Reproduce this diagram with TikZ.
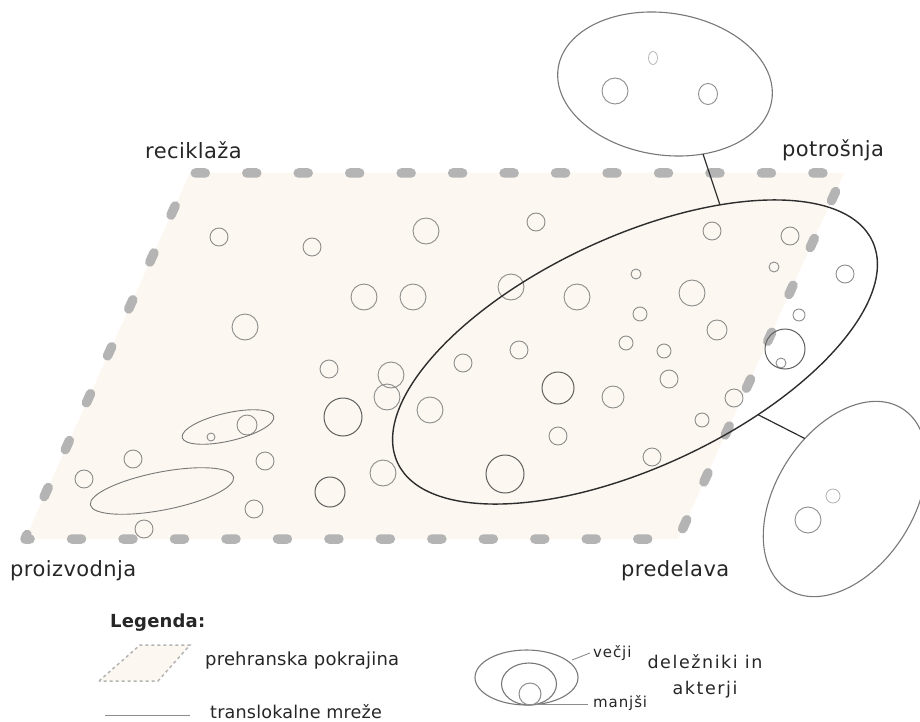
\documentclass[tikz,border=0pt]{standalone}
\usepackage{fontspec}
\setmainfont{DejaVu Sans}
\newfontfamily\labfont[LetterSpace=2]{DejaVu Sans}
\newfontfamily\legfont[LetterSpace=1]{DejaVu Sans}
\newfontfamily\spfont[LetterSpace=9]{DejaVu Sans}
\newfontfamily\smfont[LetterSpace=6]{DejaVu Sans}
\usetikzlibrary{shapes.geometric}
\definecolor{landfill}{RGB}{252,247,240}
\definecolor{dashgray}{RGB}{180,180,180}
\definecolor{bubgray}{RGB}{140,140,140}
\definecolor{bubdark}{RGB}{95,95,95}
\definecolor{netcol}{RGB}{45,45,45}
\definecolor{ringcol}{RGB}{120,120,120}
\begin{document}
\begin{tikzpicture}[x=1pt,y=-1pt,
  bub/.style={draw=bubgray, line width=0.9pt},
  bubd/.style={draw=bubdark, line width=1pt},
  region/.style={ellipse, inner sep=0pt, outer sep=0pt},
  lab/.style={font=\labfont\fontsize{21}{25}\selectfont, inner sep=0pt, text=black!85},
  leg/.style={font=\legfont\fontsize{18}{22}\selectfont, inner sep=0pt, text=black!85},
  sm/.style={font=\smfont\fontsize{15}{18}\selectfont, inner sep=0pt, text=black!85},
  link/.style={draw=netcol, line width=1.2pt}]
\useasboundingbox (0,0) rectangle (920,722);

% food landscape
\fill[landfill] (25,539) -- (190,173) -- (844,173) -- (678,539) -- cycle;
\draw[dashgray, line width=9.5pt, line cap=round, dash pattern=on 10pt off 41.47pt, dash phase=5pt]
  (25,539) -- (190,173) -- (844,173) -- (678,539) -- cycle;

% actors
\foreach \x/\y/\r in {219/237/9, 312/247/9, 426/231/13, 364/297/13, 413/297/13, 245/327/13,
  329/369/9, 391/375/13, 387/397/13, 430/410/13, 247/425/10, 211/437/4, 133/459/9,
  265/461/9, 84/479/9, 383/473/13, 254/509/9, 144/529/9,
  536/222/9, 511/287/13, 577/297/13, 636/274/5, 692/293/13, 712/231/9, 790/236/9,
  774/267/5, 845/274/9, 640/314/7, 717/330/10, 799/315/6, 626/343/7, 664/351/7,
  519/350/9, 463/363/9, 781/363/5, 669/379/9, 613/397/11, 734/398/9, 702/420/7,
  558/436/9, 652/457/9}
  \draw[bub] (\x,\y) circle [radius=\r];
\foreach \x/\y/\r in {343/417/19, 330/492/15, 785/349/20, 558/388/16, 505/474/19}
  \draw[bubd] (\x,\y) circle [radius=\r];

% small networks
\draw[ringcol, line width=0.9pt, rotate around={13:(228,427)}] (228,427) ellipse [x radius=47, y radius=14];
\draw[ringcol, line width=0.9pt, rotate around={11:(162,491)}] (162,491) ellipse [x radius=73, y radius=19];

% translocal networks
\node[region, draw=netcol, line width=1.4pt, minimum width=524pt, minimum height=230pt, rotate=25] (net) at (635,352) {};
\node[region, draw=ringcol, line width=1.1pt, minimum width=216pt, minimum height=142pt, rotate=-8.5] (top) at (665,84) {};
\node[region, draw=ringcol, line width=1.1pt, minimum width=214pt, minimum height=138pt, rotate=57.6] (rt) at (845,499) {};
\draw[link] (net.35) -- (top.-53);
\draw[link] (net.-52) -- (rt.66);

\draw[bub] (615,91) circle [radius=13];
\draw[bub] (708,94) circle [x radius=9.5, y radius=10.5];
\draw[draw=bubgray!60, line width=0.8pt] (653,58) ellipse [x radius=4.5, y radius=6.5];
\draw[bub] (808,520) circle [radius=13];
\draw[draw=bubgray!70, line width=0.8pt] (833,496) circle [radius=7];

% labels
\node[lab, anchor=base west] (rec) at (145,159) {reciklaža};
\node[lab, anchor=base west] (pot) at (782,157) {potrošnja};
\node[lab, anchor=base west] (pro) at (10,576) {proizvodnja};
\node[lab, anchor=base west] (pre) at (621,576) {predelava};

% legend
\node[leg, anchor=base west, font=\legfont\bfseries\fontsize{18}{22}\selectfont] (legtitle) at (110,627) {Legenda:};
\filldraw[fill=landfill, draw=dashgray, line width=1.5pt, dash pattern=on 3pt off 3pt]
  (99,681) -- (140,645) -- (190,645) -- (158,681) -- cycle;
\node[leg, anchor=base west] (legland) at (205,665) {prehranska pokrajina};
\draw[bubgray, line width=0.9pt] (105,715) -- (190,715);
\node[leg, anchor=base west, font=\legfont\fontsize{17.6}{22}\selectfont] (legnet) at (210,718) {translokalne mreže};

\draw[ringcol, line width=1.1pt] (526.5,677.5) ellipse [x radius=51.5, y radius=27.5];
\draw[ringcol, line width=1.1pt] (529,684) ellipse [x radius=27.5, y radius=21];
\draw[bubgray, line width=1pt] (530,694) circle [radius=11];
\draw[bubgray, line width=0.9pt] (572,660) -- (590,653);
\draw[bubgray, line width=0.9pt] (536,704.5) -- (588,704.5);
\node[sm, anchor=base west] (vec) at (593,657) {večji};
\node[sm, anchor=base west] (man) at (593,707) {manjši};
\node[font=\spfont\fontsize{17.5}{26}\selectfont, inner sep=0pt, align=center, text=black!85] (act) at (705,676) {deležniki in\\akterji};
\end{tikzpicture}
\end{document}
